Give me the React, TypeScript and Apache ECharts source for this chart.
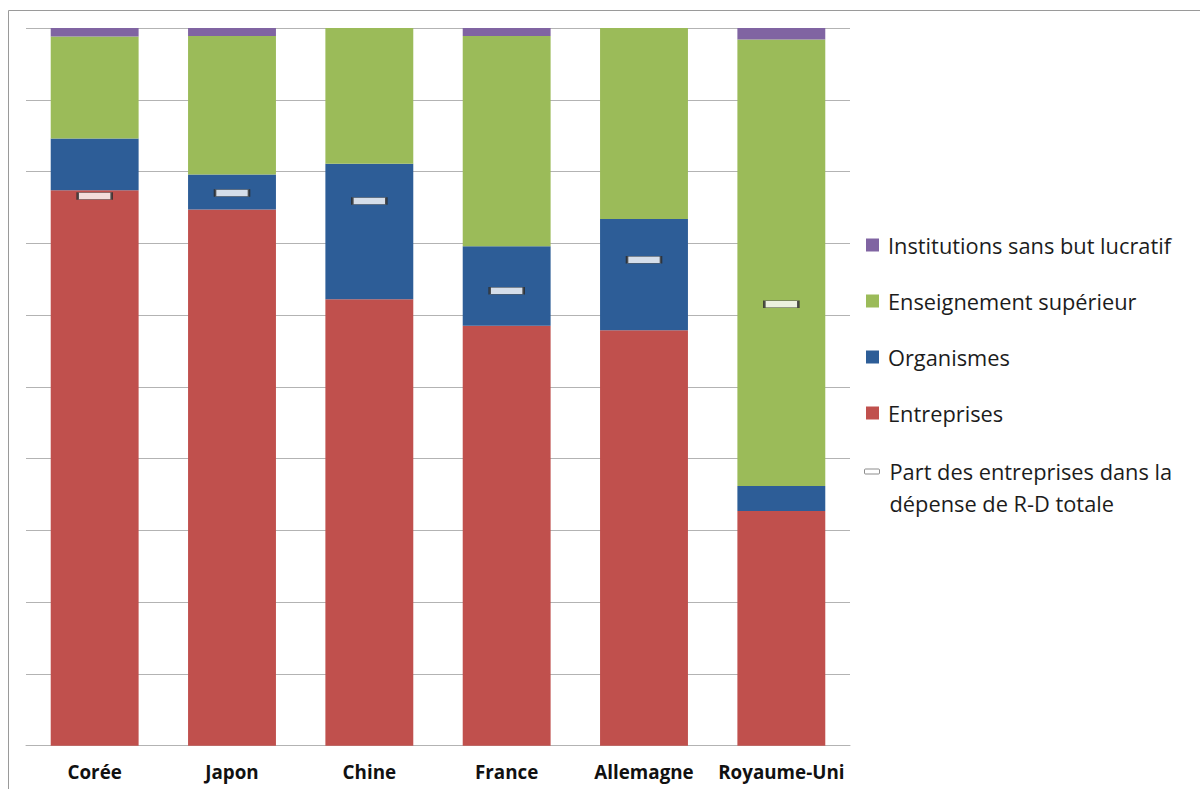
import React, { useEffect, useRef } from "react";
import * as echarts from "echarts";

const categories = ["Corée", "Japon", "Chine", "France", "Allemagne", "Royaume-Uni"];
const entreprises = [77.4, 74.7, 62.2, 58.5, 57.9, 32.7];
const organismes = [7.2, 4.9, 18.9, 11.1, 15.5, 3.5];
const enseignement = [14.2, 19.3, 18.9, 29.3, 26.6, 62.2];
const institutions = [1.2, 1.1, 0, 1.1, 0, 1.6];
const partEntreprises = [76.6, 77.0, 75.9, 63.4, 67.7, 61.5];

const PART_NAME = "Part des entreprises dans la dépense de R-D totale";
const FONT = "'Open Sans', sans-serif";
const SQUARE_ICON = "path://M0,0 H13 V13 H0 Z";
const MARKER_ICON =
  "path://M1,0 H14 A1,1 0 0 1 15,1 V4 A1,1 0 0 1 14,5 H1 A1,1 0 0 1 0,4 V1 A1,1 0 0 1 1,0 Z";

export default function App() {
  const ref = useRef<HTMLDivElement>(null);
  useEffect(() => {
    if (!ref.current) return;
    const chart = echarts.init(ref.current, undefined, { renderer: "svg" });
    const barW = "64%";
    const legendText = { fontFamily: FONT, fontSize: 21.8, color: "#1c1c1c", lineHeight: 31 };
    chart.setOption({
      animation: false,
      backgroundColor: "#ffffff",
      grid: { left: 26, right: 350, top: 28, bottom: 43.3, containLabel: false },
      xAxis: {
        type: "category",
        data: categories,
        axisLine: { show: true, lineStyle: { color: "#b3b3b3", width: 1 } },
        axisTick: { show: false },
        axisLabel: {
          fontFamily: FONT,
          fontWeight: "bold",
          fontSize: 18.8,
          color: "#111",
          margin: 17,
          interval: 0,
        },
      },
      yAxis: {
        type: "value",
        min: 0,
        max: 100,
        interval: 10,
        axisLabel: { show: false },
        axisLine: { show: false },
        axisTick: { show: false },
        splitLine: { lineStyle: { color: "#b3b3b3", width: 1 } },
      },
      legend: [
        {
          orient: "vertical",
          left: 866,
          top: 229.5,
          padding: 0,
          itemWidth: 21,
          itemHeight: 13,
          itemGap: 25,
          textStyle: legendText,
          icon: SQUARE_ICON,
          data: [
            "Institutions sans but lucratif",
            "Enseignement supérieur",
            "Organismes",
            "Entreprises",
          ],
        },
        {
          orient: "vertical",
          left: 864,
          top: 423.5,
          padding: 0,
          itemWidth: 25,
          itemHeight: 5,
          textStyle: { ...legendText, lineHeight: 32 },
          data: [
            {
              name: PART_NAME,
              icon: MARKER_ICON,
              itemStyle: { color: "#ffffff", borderColor: "#707070", borderWidth: 1 },
            },
          ],
          formatter: () => "\nPart des entreprises dans la\ndépense de R-D totale",
        },
      ],
      graphic: [
        { type: "line", shape: { x1: 8.5, y1: 10.5, x2: 1200, y2: 10.5 }, style: { stroke: "#9a9a9a", lineWidth: 1 } },
        { type: "line", shape: { x1: 8.5, y1: 10.5, x2: 8.5, y2: 789 }, style: { stroke: "#9a9a9a", lineWidth: 1 } },
      ],
      series: [
        {
          name: "Entreprises",
          type: "bar",
          stack: "total",
          barWidth: barW,
          data: entreprises,
          itemStyle: { color: "#C0504D" },
        },
        {
          name: "Organismes",
          type: "bar",
          stack: "total",
          barWidth: barW,
          data: organismes,
          itemStyle: { color: "#2D5D97" },
        },
        {
          name: "Enseignement supérieur",
          type: "bar",
          stack: "total",
          barWidth: barW,
          data: enseignement,
          itemStyle: { color: "#9BBB59" },
        },
        {
          name: "Institutions sans but lucratif",
          type: "bar",
          stack: "total",
          barWidth: barW,
          data: institutions,
          itemStyle: { color: "#8064A2" },
        },
        {
          name: PART_NAME,
          type: "scatter",
          symbol: "rect",
          symbolSize: [34, 7],
          data: partEntreprises,
          z: 5,
          itemStyle: { color: "#ffffff", borderColor: "#2a2a2a", borderWidth: 1.2 },
        },
      ],
    });
    return () => chart.dispose();
  }, []);
  return (
    <div
      ref={ref}
      style={{ position: "fixed", left: 0, top: 0, width: 1200, height: 789 }}
    />
  );
}
